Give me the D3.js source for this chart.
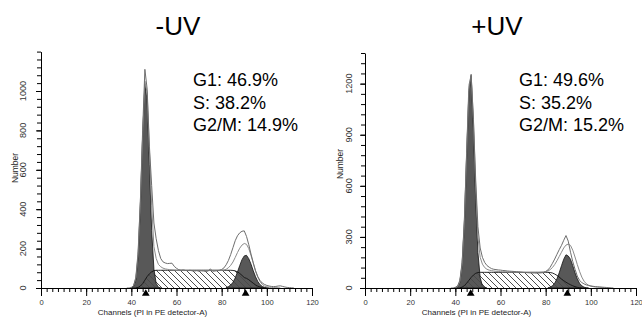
<!DOCTYPE html>
<html>
<head>
<meta charset="utf-8">
<script src="https://cdn.jsdelivr.net/npm/d3@7"></script>
<style>
  body { margin: 0; background: #fff; }
  svg { display: block; font-family: "Liberation Sans", Arial, sans-serif; }
</style>
</head>
<body>
<script>
// ---- data ----
const titles = ["-UV", "+UV"];
const phaseNames = ["G1", "S", "G2/M"];
const minusPercents = [46.9, 38.2, 14.9];
const plusPercents = [49.6, 35.2, 15.2];

const xTickLabels = [0, 20, 40, 60, 80, 100, 120];
const minusYTickLabels = [0, 200, 400, 600, 800, 1000];
const plusYTickLabels = [0, 300, 600, 900, 1200];

// peak means (triangle markers), channels
const minusMeans = [46.4, 90.6];
const plusMeans = [46.8, 89.6];

// -UV histogram (one value per channel, starting at the given channel)
const minusRawStart = 38;
const minusRaw = [0, 0, 3, 12, 50, 170, 440, 800, 1110, 1010, 720, 520, 330, 250, 190, 150,
  133, 127, 124, 125, 126, 110, 100, 93, 90, 92, 89, 88, 90, 87, 86, 88, 85, 87, 86, 84,
  86, 97, 85, 86, 88, 90, 94, 102, 118, 140, 170, 205, 240, 265, 280, 288, 290, 262, 220,
  172, 128, 88, 58, 38, 25, 18, 13, 10, 8, 7, 8, 10, 11, 8, 5, 3, 2, 1, 0];
const minusFitStart = 40;
const minusFit = [2, 12, 55, 185, 440, 770, 1050, 990, 700, 420, 210, 150, 120, 108, 101,
  97, 95, 93, 92, 91, 90, 90, 90, 90, 90, 90, 90, 90, 90, 90, 90, 90, 90, 90, 90, 90, 90,
  90, 90, 90, 90, 91, 95, 103, 115, 132, 155, 180, 202, 218, 226, 222, 200, 165, 125, 85,
  55, 32, 18, 10, 6, 4, 3, 2, 2, 1, 0];
const minusG1Start = 40;
const minusG1 = [1, 8, 42, 157, 415, 773, 1035, 951, 628, 293, 97, 23, 4, 0];
const minusG2Start = 82;
const minusG2 = [2, 7, 15, 29, 51, 81, 114, 144, 163, 166, 149, 121, 87, 57, 33, 17, 8, 3, 1, 0];
const minusSStart = 42;
const minusS = [0, 3, 10, 22, 40, 58, 72, 82, 88, 90, 90, 90, 90, 90, 90, 90, 90, 90, 90,
  90, 90, 90, 90, 90, 90, 90, 90, 90, 90, 90, 90, 90, 90, 90, 90, 90, 90, 90, 90, 90, 90,
  90, 90, 89, 87, 82, 74, 64, 53, 49, 42, 33, 24, 16, 9, 5, 2, 0];

// +UV histogram
const plusRawStart = 38;
const plusRaw = [0, 0, 4, 12, 45, 150, 400, 790, 1160, 1255, 990, 640, 360, 235, 180, 150,
  132, 122, 114, 110, 108, 106, 105, 103, 102, 100, 99, 98, 97, 96, 95, 93, 92, 91, 90,
  89, 88, 88, 87, 88, 89, 91, 97, 106, 122, 145, 170, 198, 225, 250, 280, 308, 275, 210,
  155, 110, 70, 45, 32, 24, 18, 15, 12, 10, 8, 7, 6, 5, 4, 3, 2, 1, 0];
const plusFitStart = 40;
const plusFit = [2, 8, 38, 140, 392, 800, 1190, 1250, 1000, 600, 300, 180, 140, 120, 110,
  105, 102, 100, 98, 97, 96, 95, 95, 94, 94, 94, 93, 93, 93, 93, 92, 92, 92, 92, 92, 92,
  92, 92, 93, 94, 96, 100, 108, 120, 138, 160, 185, 210, 235, 252, 258, 250, 222, 182, 138,
  98, 64, 40, 25, 16, 11, 8, 6, 5, 4, 3, 2, 1, 0];
const plusG1Start = 40;
const plusG1 = [1, 6, 34, 133, 377, 773, 1145, 1245, 941, 523, 209, 61, 13, 2, 0];
const plusG2Start = 81;
const plusG2 = [1, 5, 13, 28, 54, 89, 131, 169, 195, 188, 169, 131, 89, 54, 28, 13, 5, 1, 0];
const plusSStart = 42;
const plusS = [1, 5, 14, 28, 45, 62, 76, 86, 91, 92, 92, 92, 92, 92, 92, 92, 92, 92, 92, 92,
  92, 92, 92, 92, 92, 92, 92, 92, 92, 92, 92, 92, 92, 92, 92, 92, 92, 92, 92, 92, 91, 88,
  82, 74, 64, 53, 43, 34, 26, 19, 13, 8, 4, 1, 0];

// ---- drawing ----
const W = 642, H = 320;
const svg = d3.select("body").append("svg").attr("width", W).attr("height", H);

const defs = svg.append("defs");
const hatch = defs.append("pattern")
  .attr("id", "hatch")
  .attr("patternUnits", "userSpaceOnUse")
  .attr("width", 6).attr("height", 6);
hatch.append("rect").attr("width", 6).attr("height", 6).attr("fill", "#fff");
hatch.append("path")
  .attr("d", "M0,0L6,6M-1.5,4.5L1.5,7.5M4.5,-1.5L7.5,1.5")
  .attr("stroke", "#222").attr("stroke-width", 0.8);

const panels = [
  {
    title: titles[0], percents: minusPercents, yTicks: minusYTickLabels, yMax: 1200, yStep: 40,
    means: minusMeans, raw: [minusRawStart, minusRaw], fit: [minusFitStart, minusFit],
    g1: [minusG1Start, minusG1], g2: [minusG2Start, minusG2], s: [minusSStart, minusS],
    x0: 41, x1: 312, yTop: 51.6, titleX: 178, statsX: 193, numberY: 168, yLabelX: 23, numberX: 15
  },
  {
    title: titles[1], percents: plusPercents, yTicks: plusYTickLabels, yMax: 1380, yStep: 60,
    means: plusMeans, raw: [plusRawStart, plusRaw], fit: [plusFitStart, plusFit],
    g1: [plusG1Start, plusG1], g2: [plusG2Start, plusG2], s: [plusSStart, plusS],
    x0: 365, x1: 636, yTop: 53, titleX: 497, statsX: 519, numberY: 164, yLabelX: 349, numberX: 340
  }
];

const baseY = 288;

panels.forEach(drawPanel);

function toPoints(series) {
  const start = series[0];
  return series[1].map((v, i) => [start + i, v]);
}

function drawPanel(p) {
  const x = d3.scaleLinear().domain([0, 120]).range([p.x0, p.x1]);
  const y = d3.scaleLinear().domain([0, p.yMax]).range([baseY, p.yTop]);
  const g = svg.append("g");

  const area = d3.area().x(d => x(d[0])).y0(y(0)).y1(d => y(d[1]));
  const line = d3.line().x(d => x(d[0])).y(d => y(d[1]));

  // S phase, hatched
  g.append("path").datum(toPoints(p.s))
    .attr("d", area).attr("fill", "url(#hatch)");

  // G1 and G2 peaks
  [p.g1, p.g2].forEach(s => {
    g.append("path").datum(toPoints(s))
      .attr("d", area)
      .attr("fill", "#4a4a4a").attr("fill-opacity", 0.92)
      .attr("stroke", "#111").attr("stroke-width", 0.8);
  });

  // S outline
  g.append("path").datum(toPoints(p.s))
    .attr("d", line).attr("fill", "none")
    .attr("stroke", "#111").attr("stroke-width", 0.9);

  // fit and raw data lines
  g.append("path").datum(toPoints(p.fit))
    .attr("d", line).attr("fill", "none")
    .attr("stroke", "#8c8c8c").attr("stroke-width", 1);
  g.append("path").datum(toPoints(p.raw))
    .attr("d", line).attr("fill", "none")
    .attr("stroke", "#6e6e6e").attr("stroke-width", 1);

  // x axis
  const xMinor = d3.range(0, 120.01, 2.5);
  g.append("g").attr("transform", `translate(0,${baseY})`)
    .call(d3.axisBottom(x).tickValues(xMinor).tickSize(4).tickFormat("").tickSizeOuter(0))
    .call(a => a.select(".domain").attr("stroke", "#000"));
  const xMajor = g.append("g").attr("transform", `translate(0,${baseY})`)
    .call(d3.axisBottom(x).tickValues(xTickLabels).tickSize(8).tickPadding(4).tickSizeOuter(0));
  xMajor.select(".domain").remove();
  xMajor.selectAll("text").attr("font-size", 7.6).attr("fill", "#333")
    .attr("font-family", "'Liberation Sans', Arial, sans-serif");

  // y axis
  const yMinor = d3.range(0, p.yMax + 0.1, p.yStep);
  g.append("g").attr("transform", `translate(${p.x0},0)`)
    .call(d3.axisLeft(y).tickValues(yMinor).tickSize(4).tickFormat("").tickSizeOuter(0))
    .call(a => a.select(".domain").attr("stroke", "#000"));
  g.append("g").attr("transform", `translate(${p.x0},0)`)
    .call(d3.axisLeft(y).tickValues(p.yTicks).tickSize(5).tickFormat("").tickSizeOuter(0))
    .call(a => a.select(".domain").remove());
  g.selectAll(null).data(p.yTicks).enter().append("text")
    .attr("transform", d => `translate(${p.yLabelX},${y(d)}) rotate(-90)`)
    .attr("text-anchor", "middle").attr("dy", "0.35em")
    .attr("font-size", 9.2).attr("fill", "#333")
    .text(d => d);

  g.append("text")
    .attr("transform", `translate(${p.numberX},${p.numberY}) rotate(-90)`)
    .attr("text-anchor", "middle").attr("dy", "0.35em")
    .attr("font-size", 8.5).attr("fill", "#222")
    .text("Number");

  g.append("text")
    .attr("x", (p.x0 + p.x1) / 2 - 24).attr("y", 315)
    .attr("text-anchor", "middle")
    .attr("font-size", 8).attr("fill", "#222")
    .text("Channels (PI in PE detector-A)");

  // mean markers
  g.selectAll(null).data(p.means).enter().append("path")
    .attr("d", d3.symbol(d3.symbolTriangle, 26))
    .attr("transform", d => `translate(${x(d)},${baseY + 5.6})`)
    .attr("fill", "#000");

  // title and percentages
  g.append("text")
    .attr("x", p.titleX).attr("y", 35)
    .attr("text-anchor", "middle")
    .attr("font-size", 26).attr("fill", "#000")
    .text(p.title);

  g.selectAll(null).data(p.percents).enter().append("text")
    .attr("x", p.statsX).attr("y", (d, i) => 86 + i * 22.5)
    .attr("font-size", 18).attr("fill", "#000")
    .text((d, i) => `${phaseNames[i]}: ${d.toFixed(1)}%`);
}
</script>
</body>
</html>
